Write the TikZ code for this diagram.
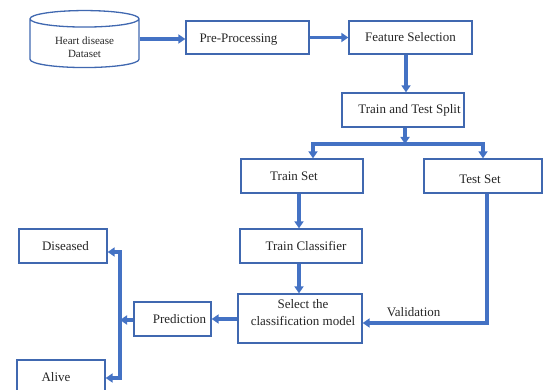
\documentclass[tikz,border=0pt]{standalone}
\usepackage{fontspec}
\setmainfont{Liberation Serif}
\usetikzlibrary{shapes.geometric,arrows.meta}
\definecolor{boxline}{HTML}{4068B0}
\definecolor{flow}{HTML}{4472C4}
\definecolor{ink}{HTML}{262626}
\newcommand{\shiftv}[2]{\raisebox{#1}[\height][\depth]{#2}}
\tikzset{
  stage/.style={draw=boxline, line width=1.3pt, fill=white, text=ink,
    font=\fontsize{13}{14}\selectfont, inner sep=0pt},
  flowline/.style={draw=flow, line width=3.2pt,
    -{Triangle[length=7pt,width=9pt]}},
  plainline/.style={draw=flow, line width=3.2pt}
}
\begin{document}
\begin{tikzpicture}[x=1pt,y=-1pt]
\useasboundingbox (0,0) rectangle (543,390);
\clip (0,0) rectangle (543,390);

% data source
\node[cylinder, shape border rotate=90, aspect=0.28, draw=boxline,
  line width=1.3pt, minimum width=109pt, minimum height=57pt, inner sep=0pt,
  text=ink, font=\fontsize{11}{14}\selectfont, align=center]
  (data) at (84.5,43.5) {\shiftv{-4pt}{\shortstack{Heart disease\\[3pt]Dataset}}};

% process boxes
\node[stage, minimum width=123pt, minimum height=33pt] (pre) at (247.5,37.5) {\shiftv{-2pt}{Pre-Processing}\hspace*{18pt}};
\node[stage, minimum width=123pt, minimum height=33pt] (feat) at (410.5,37.5) {Feature Selection};
\node[stage, minimum width=122pt, minimum height=34pt] (split) at (403,110) {\hspace*{13pt}Train and Test Split};
\node[stage, minimum width=122pt, minimum height=34pt] (train) at (302,176) {Train Set\hspace*{16pt}};
\node[stage, minimum width=118pt, minimum height=34pt] (test) at (483,176) {\shiftv{-3pt}{Test Set}\hspace*{6pt}};
\node[stage, minimum width=122pt, minimum height=34pt] (clf) at (301,246) {\hspace*{10pt}Train Classifier};
\node[stage, minimum width=124pt, minimum height=49pt, align=center] (sel) at (300,318.5)
  {\hspace*{6pt}\shiftv{6pt}{\shortstack{Select the\\[4pt]classification model}}};
\node[stage, minimum width=77pt, minimum height=34pt] (pred) at (172.5,319) {\hspace*{14pt}Prediction};
\node[stage, minimum width=88pt, minimum height=34pt] (dis) at (63,246) {\hspace*{5pt}Diseased};
\node[stage, minimum width=88pt, minimum height=34pt] (alive) at (61,377) {Alive\hspace*{10pt}};

% junction points
\coordinate (splitfork) at (405,144);
\coordinate (lfork) at (313,144);
\coordinate (rfork) at (483,144);
\coordinate (valcorner) at (487,323);
\coordinate (predbus) at (120,320);
\coordinate (bustop) at (120,252);
\coordinate (busbot) at (120,378);

% main flow
\draw[flowline] (data.east |- 0,39) -- (pre.west |- 0,39);
\draw[flowline] (pre.east) -- (feat.west);
\draw[flowline] (feat.south -| 406,0) -- (split.north -| 406,0);
\draw[plainline, line cap=rect] (lfork) -- (rfork);
\draw[flowline] (split.south -| splitfork) -- (splitfork);
\draw[flowline] (lfork) -- (train.north -| lfork);
\draw[flowline] (rfork) -- (test.north -| rfork);
\draw[flowline] (train.south -| 299,0) -- (clf.north -| 299,0);
\draw[flowline] (clf.south -| 299,0) -- (sel.north -| 299,0);

% validation path
\draw[flowline] (test.south -| valcorner) -- (valcorner) -- (sel.east |- valcorner)
  node[pos=0.59, above=1pt, text=ink, font=\fontsize{13}{14}\selectfont] {Validation};

% prediction and outcomes
\draw[flowline] (sel.west |- pred.east) -- (pred.east);
\draw[flowline] (pred.west |- predbus) -- (predbus);
\draw[plainline, line cap=rect] (bustop) -- (busbot);
\draw[flowline] (bustop) -- (dis.east |- bustop);
\draw[flowline] (busbot) -- (alive.east |- busbot);
\end{tikzpicture}
\end{document}
